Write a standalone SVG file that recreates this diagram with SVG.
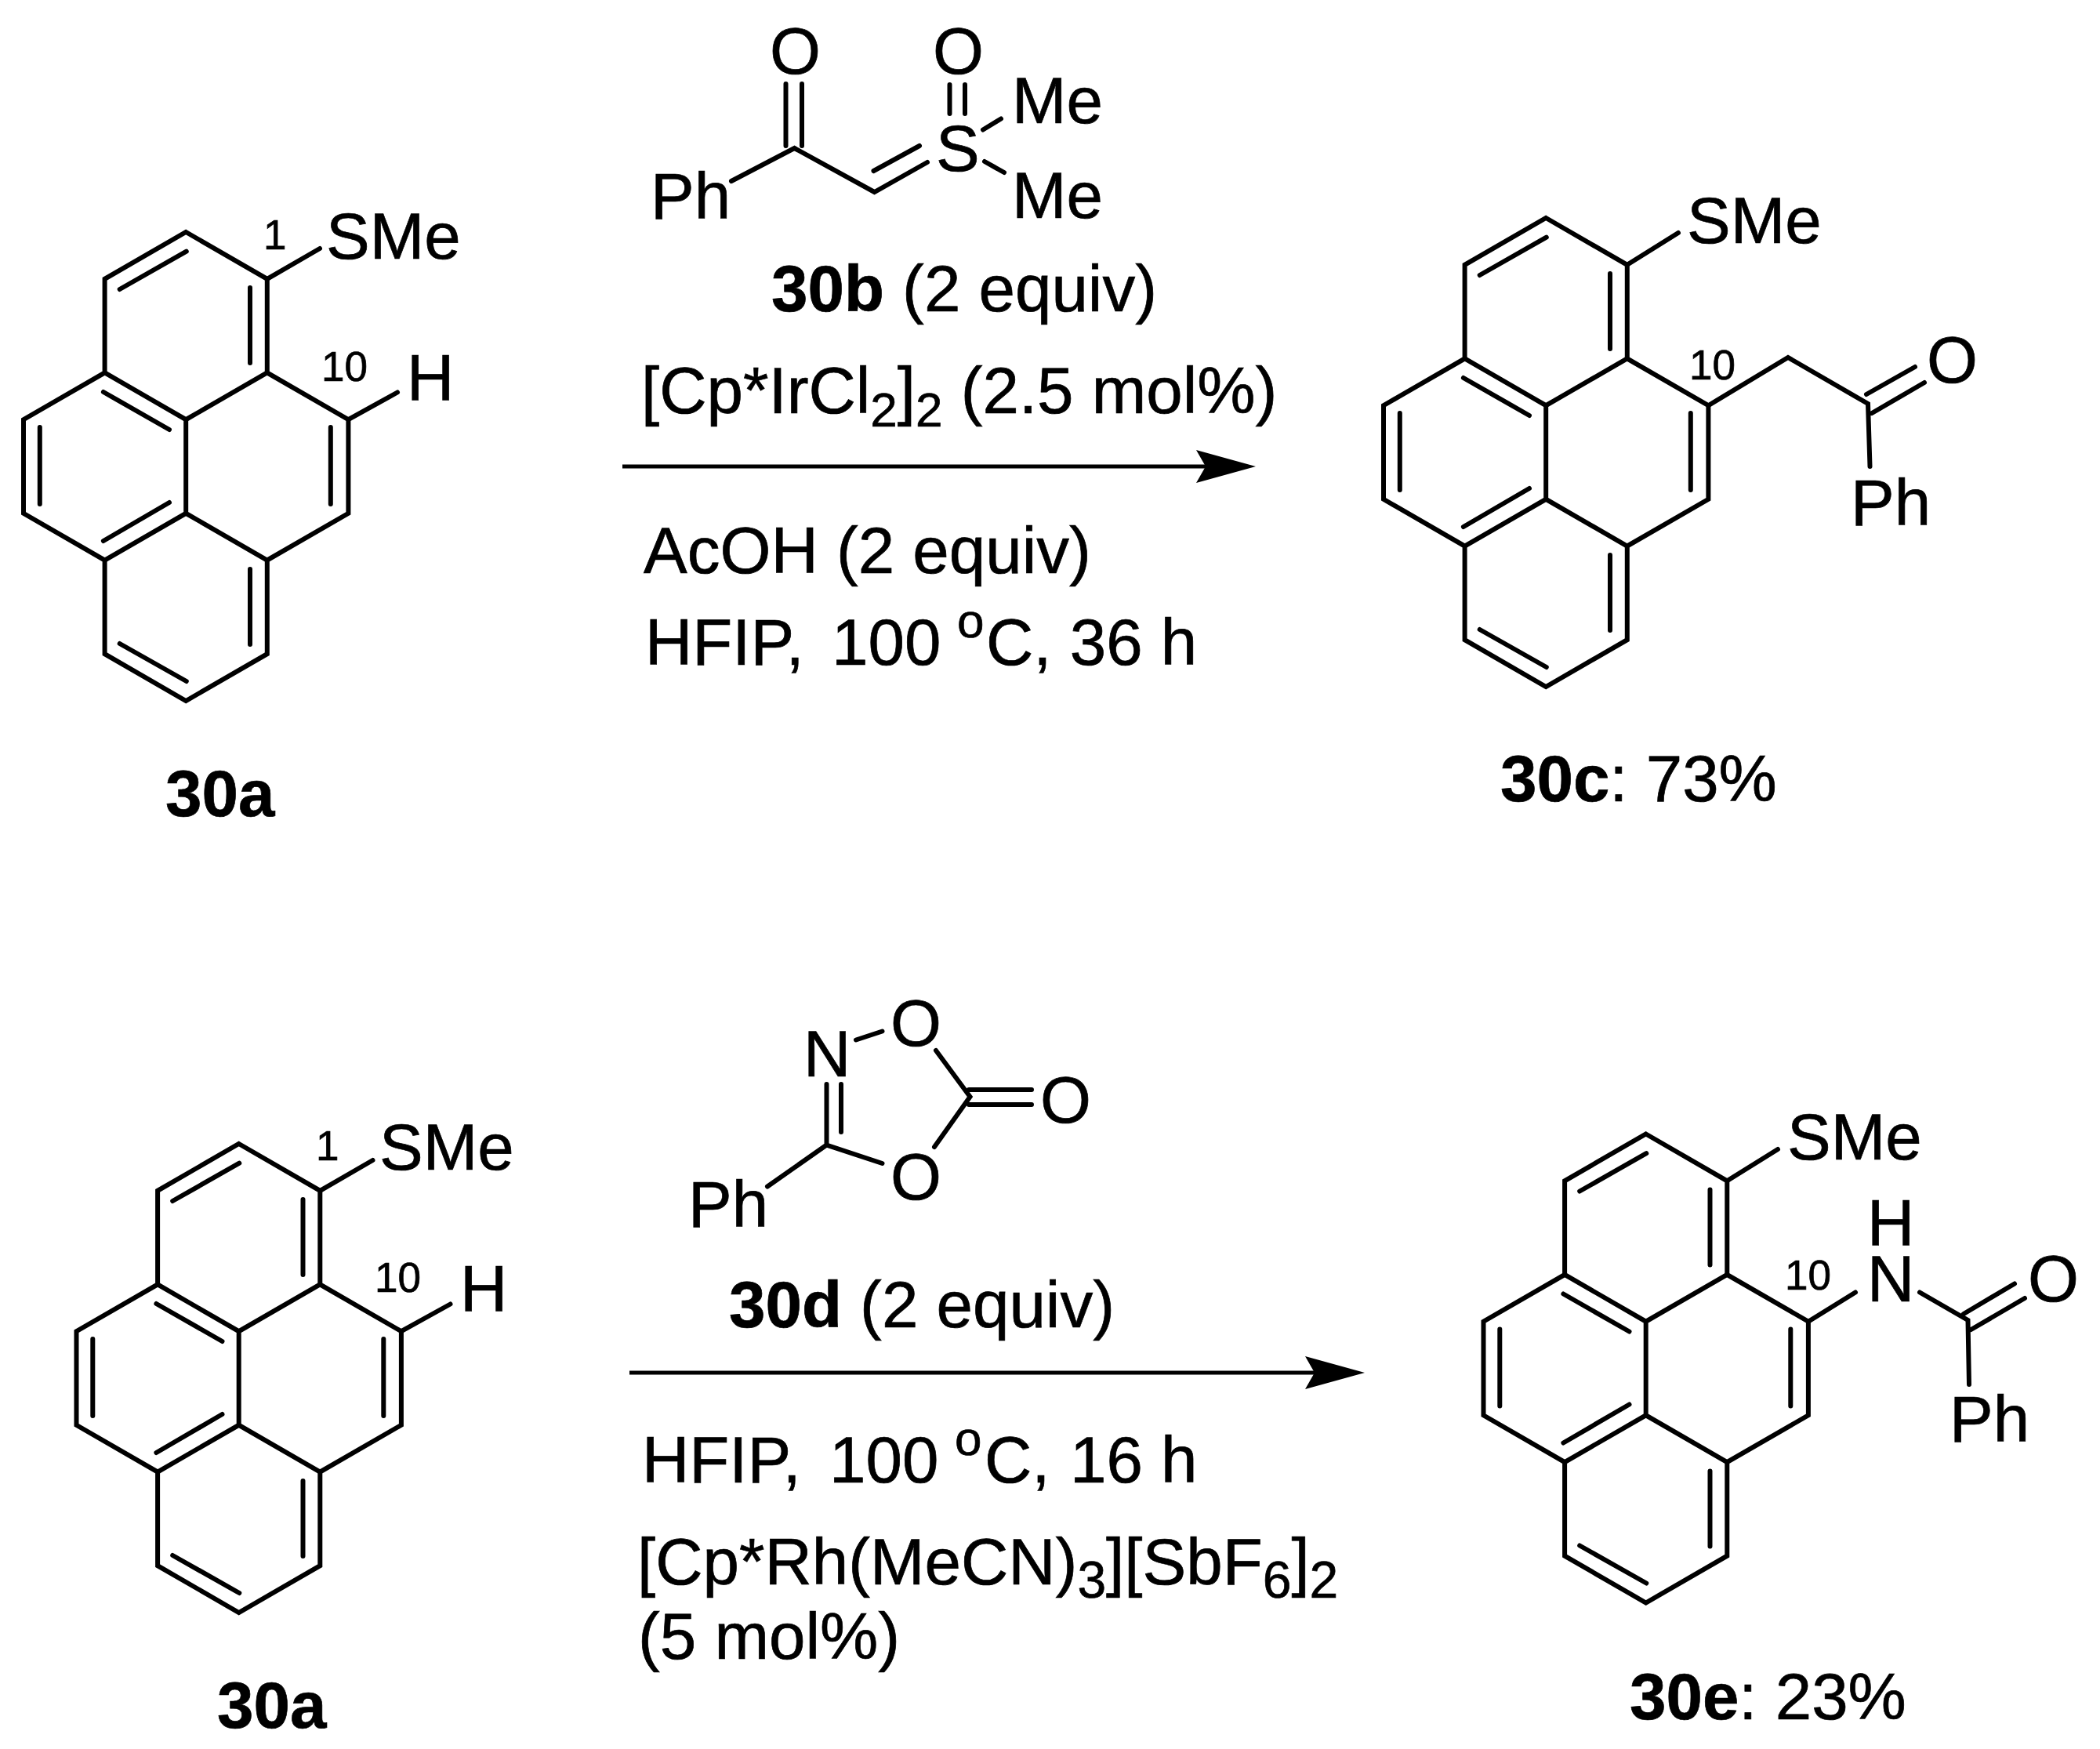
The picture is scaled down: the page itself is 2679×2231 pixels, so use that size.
<svg xmlns="http://www.w3.org/2000/svg" width="2679" height="2231" viewBox="0 0 2679 2231">
<style>
text{font-family:"Liberation Sans",Arial,sans-serif;font-size:83.5px;fill:#000;stroke:#000;stroke-width:.7}
.b{font-weight:700}
.n{font-size:53px}
.s{font-size:62px}
.t{font-size:66px}
.u{font-size:62px}
.bond{fill:none;stroke:#000;stroke-width:6;stroke-linecap:round;stroke-linejoin:miter}
.arrow{fill:none;stroke:#000;stroke-width:5}
</style>
<defs>
<marker id="head" markerUnits="userSpaceOnUse" viewBox="0 0 76 42" refX="64" refY="21" markerWidth="76" markerHeight="42" orient="auto"><path d="M0 0L76 21L0 42L12 21Z" fill="#000"/></marker>
<g id="pyrene" class="bond">
<path d="M237.2 296L340.8 355.8V475.4L444.4 535.2V654.8L340.8 714.6V834.2L237.2 894L133.6 834.2V714.6L30 654.8V535.2L133.6 475.4V355.8Z"/>
<path d="M133.6 475.4L237.2 535.2L340.8 475.4M237.2 535.2V654.8M133.6 714.6L237.2 654.8L340.8 714.6"/>
<path d="M152.7 369L237.8 320.7M319 367V463M131.9 500L216 548M50.8 545V643M131.9 690L216 641M421.8 545V643M319 726V822M152.7 821L237.8 869"/>
</g>
</defs>
<rect width="2679" height="2231" fill="#fff"/>
<g id="connectors">
<line class="arrow" x1="794" y1="595" x2="1590" y2="595" marker-end="url(#head)"/>
<line class="arrow" x1="803" y1="1751" x2="1729" y2="1751" marker-end="url(#head)"/>
</g>
<g id="node-30a-top">
<use href="#pyrene"/>
<path class="bond" d="M340.8 355.8L408 317M444.4 535.2L507 500.5"/>
<text x="416" y="330">SMe</text>
<text x="519" y="511">H</text>
<text class="n" x="336" y="318">1</text>
<text class="n" x="410" y="486">10</text>
<text class="b" x="211" y="1041">30a</text>
</g>
<g id="node-30b">
<path class="bond" d="M1002.5 107V186M1023 107V186M933 231L1013.5 189L1115.5 245L1183 207M1114.5 218L1173 186M1211.5 108V145M1231 108V145M1254 165.5L1277 151.5M1256 206L1281 220"/>
<text x="982" y="94">O</text>
<text x="1190" y="94">O</text>
<text x="1291" y="157">Me</text>
<text x="1291" y="278">Me</text>
<text x="1194" y="218">S</text>
<text x="830" y="279">Ph</text>
<text x="984" y="397"><tspan class="b">30b</tspan> (2 equiv)</text>
</g>
<g id="conditions-top">
<text x="818" y="527">[Cp*IrCl<tspan class="s" dy="17">2</tspan><tspan dy="-17">]</tspan><tspan class="s" dy="17">2</tspan><tspan dy="-17"> (2.5 mol%)</tspan></text>
<text x="821" y="731">AcOH (2 equiv)</text>
<text x="823" y="848">HFIP,</text>
<text x="1061" y="848">100</text>
<text class="u" x="1221" y="813">o</text>
<text x="1258" y="848">C, 36 h</text>
</g>
<g id="node-30c">
<use href="#pyrene" x="1735" y="-18"/>
<path class="bond" d="M2075.8 337.8L2141 297M2179.4 517.2L2281 456L2383 515L2385.5 595M2381 503L2443 468M2388 527L2455 488"/>
<text x="2152" y="310">SMe</text>
<text class="n" x="2155" y="484">10</text>
<text x="2458" y="488">O</text>
<text x="2361" y="670">Ph</text>
<text x="1914" y="1022"><tspan class="b">30c</tspan>: 73%</text>
</g>
<g id="node-30a-bottom">
<use href="#pyrene" x="67.5" y="1163"/>
<path class="bond" d="M408.3 1518.8L475.5 1480M511.9 1698.2L574.5 1663.5"/>
<text x="484" y="1492">SMe</text>
<text x="587" y="1673">H</text>
<text class="n" x="403" y="1480">1</text>
<text class="n" x="478" y="1648">10</text>
<text class="b" x="277" y="2204">30a</text>
</g>
<g id="node-30d">
<path class="bond" d="M1092 1326.5L1125.5 1315.5M1194 1340L1237.5 1399L1192 1463M1236 1390H1316M1236 1409H1316M1054.5 1383V1460.5L1125.5 1484M1073 1383V1444M1054.5 1460.5L979 1513.5"/>
<text x="1025" y="1373">N</text>
<text x="1136" y="1334">O</text>
<text x="1327" y="1432">O</text>
<text x="1136" y="1530">O</text>
<text x="878" y="1565">Ph</text>
<text x="930" y="1693"><tspan class="b">30d</tspan> (2 equiv)</text>
</g>
<g id="conditions-bottom">
<text x="819" y="1891">HFIP,</text>
<text x="1058" y="1891">100</text>
<text class="u" x="1218" y="1856">o</text>
<text x="1256" y="1891">C,</text>
<text x="1365" y="1891">16 h</text>
<text x="813" y="2021">[Cp*Rh(MeCN)<tspan class="t" dy="17">3</tspan><tspan dy="-17">][SbF</tspan><tspan class="t" dy="17">6</tspan><tspan dy="-17">]</tspan><tspan class="t" dy="17">2</tspan></text>
<text x="814" y="2116">(5 mol%)</text>
</g>
<g id="node-30e">
<use href="#pyrene" x="1862.5" y="1150.5"/>
<path class="bond" d="M2203.3 1506.3L2268 1466M2306.9 1685.7L2367 1648.5M2449 1648.5L2510.5 1684L2512 1766M2505 1676L2570 1637.5M2514.5 1696L2583 1656"/>
<text x="2280" y="1479">SMe</text>
<text x="2382" y="1589">H</text>
<text x="2382" y="1660">N</text>
<text x="2587" y="1660">O</text>
<text class="n" x="2277" y="1645">10</text>
<text x="2487" y="1839">Ph</text>
<text x="2079" y="2193"><tspan class="b">30e</tspan>: 23%</text>
</g>
</svg>
